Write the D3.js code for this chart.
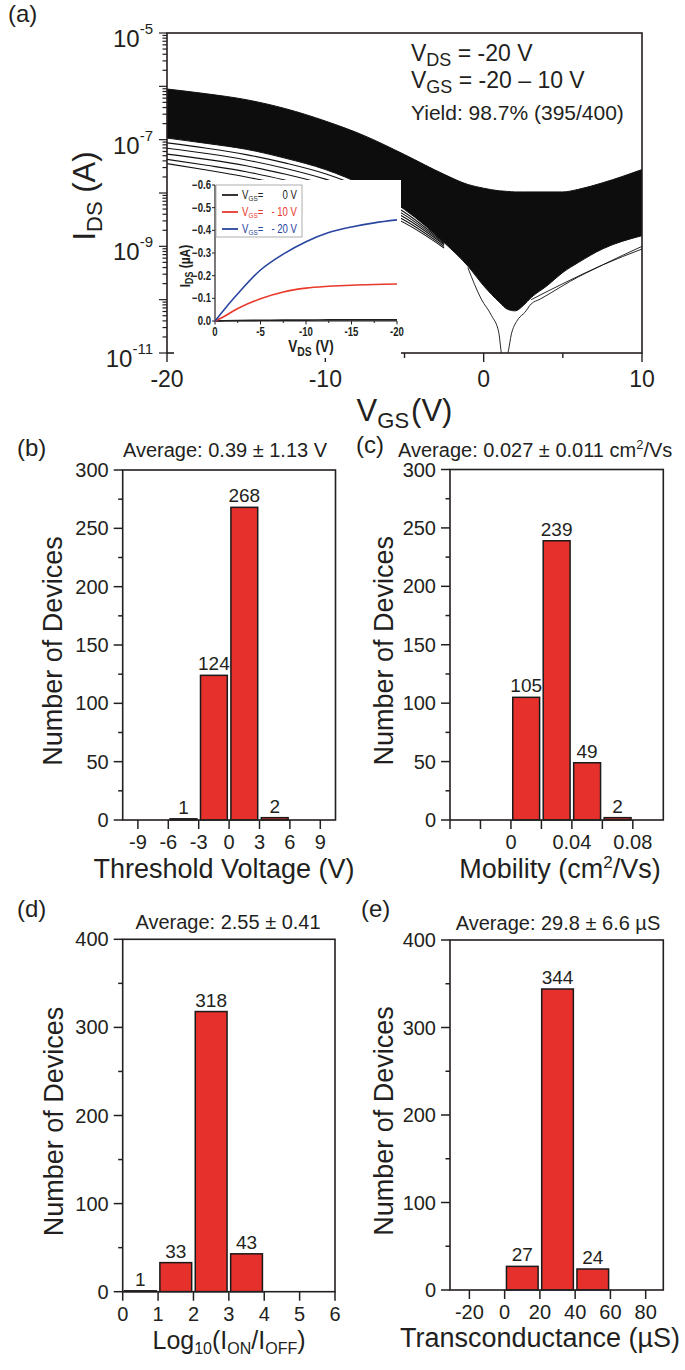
<!DOCTYPE html>
<html><head><meta charset="utf-8">
<script src="https://cdn.jsdelivr.net/npm/d3@7"></script>
<style>
body{margin:0;background:#fff}
svg{display:block}
</style>
</head><body>
<svg id="c" width="685" height="1370"></svg>
<script>
// ===================== DATA =====================
// (a) transfer curves, log10(I_DS)
const vgsGrid   = [-20,-17.5,-15,-12.5,-10,-7.5,-5,-2.5,-1,0,1,1.5,2,2.5,3,4,5,6,7.5,10];
const bandUpper = [-6.05,-6.14,-6.25,-6.42,-6.65,-6.93,-7.28,-7.65,-7.84,-7.91,-7.96,-7.97,-7.98,-7.98,-7.98,-7.98,-7.98,-7.93,-7.81,-7.56];
const bandLower = [-6.97,-7.07,-7.18,-7.35,-7.56,-7.87,-8.31,-8.93,-9.37,-9.74,-10.05,-10.18,-10.21,-10.11,-9.96,-9.74,-9.49,-9.30,-9.05,-8.80];
const tailV  = [-20,-17.5,-15,-12.5,-10,-7.5,-5,-2.5];
const tail1  = [-7.06,-7.16,-7.28,-7.44,-7.64,-7.93,-8.36,-8.93];
const tail2  = [-7.16,-7.26,-7.38,-7.54,-7.74,-8.01,-8.41,-8.95];
const tail3  = [-7.27,-7.37,-7.49,-7.65,-7.84,-8.09,-8.46,-8.97];
const tail4  = [-7.37,-7.48,-7.60,-7.76,-7.94,-8.17,-8.51,-9.00];
const tail5  = [-7.45,-7.57,-7.70,-7.85,-8.03,-8.25,-8.56,-9.03];
const dipV   = [-1,-0.15,0.5,0.95,1.17,1.45,1.78,2.19,2.6,3.0,3.57,4.26,5.5,7.5,10];
const dipLog = [-9.4,-9.99,-10.3,-10.61,-11.05,-11.05,-10.61,-10.36,-10.24,-10.08,-9.99,-9.87,-9.65,-9.35,-9.0];
const rightV   = [3,5,7.5,10];
const rightLog = [-10.0,-9.7,-9.35,-9.05];
const yDecadeLabels = [-5,-7,-9,-11];
const xTicksA = [-20,-15,-10,-5,0,5,10];

// (a) inset output curves
const insetVds = [0,-1,-2.5,-5,-7.5,-10,-12.5,-15,-17.5,-20];
const ids0   = [0,-0.001,-0.002,-0.003,-0.004,-0.004,-0.005,-0.005,-0.005,-0.005];
const idsM10 = [0,-0.020,-0.055,-0.098,-0.128,-0.145,-0.153,-0.158,-0.161,-0.163];
const idsM20 = [0,-0.050,-0.120,-0.225,-0.295,-0.350,-0.390,-0.415,-0.433,-0.446];
const insetYTicks = [0,-0.1,-0.2,-0.3,-0.4,-0.5,-0.6];
const insetXTicks = [0,-5,-10,-15,-20];
const legendValues = ["0 V","- 10 V","- 20 V"];

// (b) threshold voltage
const vthLo = [-6,-3,0,3], vthHi = [-3,0,3,6], vthCount = [1,124,268,2];
const vthTicks = [-9,-6,-3,0,3,6,9];
// (c) mobility
const muLo = [0,0.02,0.04,0.06], muHi = [0.02,0.04,0.06,0.08], muCount = [105,239,49,2];
const muTicks = [-0.04,-0.02,0,0.02,0.04,0.06,0.08];
const muTickLabels = [0,0.04,0.08];
// (d) on/off ratio
const ratioLo = [0,1,2,3], ratioHi = [1,2,3,4], ratioCount = [1,33,318,43];
const ratioTicks = [0,1,2,3,4,5,6];
// (e) transconductance
const gmLo = [0,20,40], gmHi = [20,40,60], gmCount = [27,344,24];
const gmTicks = [-20,0,20,40,60,80];

// ===================== DRAWING =====================
const FONT = '"Liberation Sans", Arial, Helvetica, sans-serif';
const INK = "#231f20";
const RED = "#e5302b";
const BLUE = "#2a45a0";
const LRED = "#e8392b";
const NX = 0.8; // horizontal squeeze for the condensed inset lettering
const svg = d3.select("#c");
svg.append("rect").attr("width",685).attr("height",1370).attr("fill","#fff");

function rich(g, x, y, parts, o) {
  o = o || {};
  const t = g.append("text").attr("x", x).attr("y", y)
    .attr("font-family", FONT).attr("font-size", o.size)
    .attr("text-anchor", o.anchor || "start").attr("fill", o.fill || INK);
  if (o.weight) t.attr("font-weight", o.weight);
  if (o.transform) t.attr("transform", o.transform);
  let cur = 0;
  parts.forEach(p => {
    const s = t.append("tspan").text(p.t);
    const off = p.off || 0;
    if (off - cur !== 0) s.attr("dy", off - cur);
    cur = off;
    if (p.size) s.attr("font-size", p.size);
    if (p.dx) s.attr("dx", p.dx);
  });
  return t;
}
// condensed text: placed at (x,y) and squeezed horizontally
function narrow(g, x, y, parts, o) {
  o = Object.assign({}, o);
  o.transform = `translate(${x},${y}) ${o.rot ? "rotate(-90) " : ""}scale(${NX},1)`;
  return rich(g, 0, 0, parts, o);
}

// ---------- Panel (a) ----------
const A = {l:167, r:642, t:33, b:353};
const xA = d3.scaleLinear().domain([-20,10]).range([A.l, A.r]);
const yA = d3.scaleLog().domain([1e-11,1e-5]).range([A.b, A.t]);
const defs = svg.append("defs");
defs.append("clipPath").attr("id","clipA").append("rect")
  .attr("x",A.l).attr("y",A.t).attr("width",A.r-A.l).attr("height",A.b-A.t);
const gA = svg.append("g").attr("clip-path","url(#clipA)");

const band = d3.area()
  .x((d,i)=>xA(vgsGrid[i]))
  .y0((d,i)=>yA(Math.pow(10,bandLower[i])))
  .y1((d,i)=>yA(Math.pow(10,bandUpper[i])))
  .curve(d3.curveMonotoneX);
gA.append("path").datum(vgsGrid).attr("d", band).attr("fill","#0d0d0d");

function logLine(vs, logs, w) {
  const ln = d3.line().x((d,i)=>xA(vs[i])).y((d,i)=>yA(Math.pow(10,logs[i]))).curve(d3.curveMonotoneX);
  gA.append("path").datum(vs).attr("d", ln).attr("fill","none").attr("stroke","#111").attr("stroke-width", w||1);
}
[tail1,tail2,tail3,tail4,tail5].forEach(t=>logLine(tailV,t,1.1));
logLine(vgsGrid, bandUpper, 1);
logLine(vgsGrid, bandLower, 1);
logLine(dipV, dipLog, 0.9);
logLine(rightV, rightLog, 0.9);

// frame
svg.append("rect").attr("x",A.l).attr("y",A.t).attr("width",A.r-A.l).attr("height",A.b-A.t)
  .attr("fill","none").attr("stroke",INK).attr("stroke-width",1.6);
// left log ticks
const gAx = svg.append("g").attr("stroke",INK);
for (let d=-11; d<=-5; d++) {
  for (let m=1; m<=9; m++) {
    const v = m*Math.pow(10,d);
    if (v > 1.0001e-5) continue;
    const len = m===1 ? 8 : 4.5;
    gAx.append("line").attr("x1",A.l-len).attr("x2",A.l).attr("y1",yA(v)).attr("y2",yA(v)).attr("stroke-width",1.2);
  }
}
yDecadeLabels.forEach(d=>{
  rich(svg, A.l-14, yA(Math.pow(10,d))+14, [{t:"10"},{t:String(d), size:15, off:-13}], {size:24, anchor:"end"});
});
xTicksA.forEach(v=>{
  const len = v%10===0 ? 9 : 5;
  gAx.append("line").attr("x1",xA(v)).attr("x2",xA(v)).attr("y1",A.b).attr("y2",A.b+len).attr("stroke-width",1.4);
  if (v%10===0) svg.append("text").attr("x",xA(v)).attr("y",387).attr("text-anchor","middle")
    .attr("font-family",FONT).attr("font-size",23).attr("fill",INK).text(v);
});
// axis titles
rich(svg, (A.l+A.r)/2, 421, [{t:"V"},{t:"GS",size:22,off:7},{t:"(V)",off:0,dx:2}], {size:31, anchor:"middle"});
rich(svg, 0, 0, [{t:"I"},{t:"DS",size:22,off:7},{t:" (A)",off:0}], {size:31, anchor:"middle", transform:"translate(95,196) rotate(-90)"});
// annotations
rich(svg, 411, 61, [{t:"V"},{t:"DS",size:18,off:5},{t:" = -20 V",off:0}], {size:23});
rich(svg, 411, 88, [{t:"V"},{t:"GS",size:18,off:5},{t:" = -20 \u2013 10 V",off:0}], {size:23});
rich(svg, 411, 120, [{t:"Yield: 98.7% (395/400)"}], {size:21});
rich(svg, 8, 22, [{t:"(a)"}], {size:24});

// ---------- Inset ----------
const I = {l:215, r:397, t:185, b:321};
svg.append("rect").attr("x",174).attr("y",180).attr("width",227).attr("height",178).attr("fill","#fff");
const xI = d3.scaleLinear().domain([0,-20]).range([I.l, I.r]);
const yI = d3.scaleLinear().domain([0,-0.6]).range([I.b, I.t]);
const gI = svg.append("g");
gI.append("line").attr("x1",I.l).attr("x2",I.l).attr("y1",I.t).attr("y2",I.b).attr("stroke",INK).attr("stroke-width",1.2);
gI.append("line").attr("x1",I.l).attr("x2",I.r).attr("y1",I.b).attr("y2",I.b).attr("stroke",INK).attr("stroke-width",1.2);
insetYTicks.forEach(v=>{
  gI.append("line").attr("x1",I.l-3).attr("x2",I.l).attr("y1",yI(v)).attr("y2",yI(v)).attr("stroke",INK);
  narrow(gI, I.l-4, yI(v)+4, [{t:d3.format(".1f")(v)}], {size:12, anchor:"end", weight:"bold"});
});
[-2.5,-7.5,-12.5,-17.5].forEach(v=>{
  gI.append("line").attr("x1",xI(v)).attr("x2",xI(v)).attr("y1",I.b).attr("y2",I.b+2).attr("stroke",INK);
});
insetXTicks.forEach(v=>{
  gI.append("line").attr("x1",xI(v)).attr("x2",xI(v)).attr("y1",I.b).attr("y2",I.b+3.5).attr("stroke",INK);
  narrow(gI, xI(v), 336, [{t:String(v)}], {size:12, anchor:"middle", weight:"bold"});
});
narrow(gI, 311, 352, [{t:"V"},{t:"DS",size:13,off:4},{t:" (V)",off:0}], {size:17, anchor:"middle", weight:"bold"});
narrow(gI, 190, 266, [{t:"I"},{t:"DS",size:11,off:3},{t:" (\u00b5A)",off:0}], {size:15, anchor:"middle", weight:"bold", rot:true});
const insetLine = d3.line().x((d,i)=>xI(insetVds[i])).y(d=>yI(d)).curve(d3.curveCatmullRom);
[[ids0,INK],[idsM10,LRED],[idsM20,BLUE]].forEach(([s,c])=>{
  gI.append("path").datum(s).attr("d",insetLine).attr("fill","none").attr("stroke",c).attr("stroke-width",1.6);
});
// legend
gI.append("rect").attr("x",216).attr("y",185).attr("width",86).attr("height",52).attr("fill","#fff").attr("stroke","#9a9a9a").attr("stroke-width",0.8);
const legCols = [INK, LRED, BLUE];
legendValues.forEach((lab,i)=>{
  const yy = 195 + i*17;
  gI.append("line").attr("x1",222).attr("x2",238).attr("y1",yy).attr("y2",yy).attr("stroke",legCols[i]).attr("stroke-width",1.8);
  narrow(gI, 242, yy+4, [{t:"V"},{t:"GS",size:8,off:2},{t:"=",off:0}], {size:12, fill:legCols[i]});
  narrow(gI, 297, yy+4, [{t:lab}], {size:12, anchor:"end", fill:legCols[i]});
});

// ---------- Histograms ----------
function histogram(P) {
  const g = svg.append("g");
  const x = d3.scaleLinear().domain(P.xDomain).range([P.l, P.r]);
  const y = d3.scaleLinear().domain([0, P.yMax]).range([P.b, P.t]);
  // bars
  P.lo.forEach((lo,i)=>{
    const x0 = x(lo)+1.8, x1 = x(P.hi[i])-1.8;
    g.append("rect").attr("x",x0).attr("y",y(P.count[i])).attr("width",x1-x0).attr("height",y(0)-y(P.count[i]))
      .attr("fill",RED).attr("stroke","#1a1a1a").attr("stroke-width",1.5);
    g.append("text").attr("x",(x0+x1)/2).attr("y",y(P.count[i])-5).attr("text-anchor","middle")
      .attr("font-family",FONT).attr("font-size",19).attr("fill",INK).text(P.count[i]);
  });
  // frame
  g.append("rect").attr("x",P.l).attr("y",P.t).attr("width",P.r-P.l).attr("height",P.b-P.t)
    .attr("fill","none").attr("stroke",INK).attr("stroke-width",1.6);
  // y ticks
  for (let v=0; v<=P.yMax; v+=P.yMinor) {
    const major = Math.abs(v % P.yMajor) < 1e-9;
    g.append("line").attr("x1",P.l-(major?9:4.5)).attr("x2",P.l).attr("y1",y(v)).attr("y2",y(v)).attr("stroke",INK).attr("stroke-width",1.5);
    if (major) g.append("text").attr("x",P.l-14).attr("y",y(v)+7).attr("text-anchor","end")
      .attr("font-family",FONT).attr("font-size",20).attr("fill",INK).text(v);
  }
  // x ticks
  P.ticks.forEach(v=>{
    g.append("line").attr("x1",x(v)).attr("x2",x(v)).attr("y1",P.b).attr("y2",P.b+9).attr("stroke",INK).attr("stroke-width",1.5);
  });
  P.tickLabels.forEach(v=>{
    g.append("text").attr("x",x(v)).attr("y",P.b+29).attr("text-anchor","middle")
      .attr("font-family",FONT).attr("font-size",20).attr("fill",INK).text(v);
  });
  rich(g, P.xtX, P.b+P.xtDy, P.xTitle, {size:P.xtSize||27, anchor:"middle"});
  rich(g, 0, 0, [{t:"Number of Devices"}], {size:27, anchor:"middle", transform:`translate(${P.ytX},${(P.t+P.b)/2+6}) rotate(-90)`});
  rich(g, P.avgX, P.avgY, P.avg, {size:20, anchor:P.avgAnchor||"middle"});
  rich(g, P.labX, P.labY, [{t:P.label}], {size:24});
}

histogram({l:122.7, r:335.5, t:470, b:820, xDomain:[-10.5,10.5], yMax:300, yMajor:50, yMinor:25,
  lo:vthLo, hi:vthHi, count:vthCount, ticks:vthTicks, tickLabels:vthTicks,
  xTitle:[{t:"Threshold Voltage (V)"}], xtX:224, xtDy:57.5, ytX:62,
  avg:[{t:"Average: 0.39 \u00b1 1.13 V"}], avgX:225, avgY:457, label:"(b)", labX:17, labY:456});

histogram({l:450, r:663.3, t:469.5, b:820, xDomain:[-0.04,0.1], yMax:300, yMajor:50, yMinor:25,
  lo:muLo, hi:muHi, count:muCount, ticks:muTicks, tickLabels:muTickLabels,
  xTitle:[{t:"Mobility (cm"},{t:"2",size:17,off:-10},{t:"/Vs)",off:0}], xtX:560, xtDy:57.5, ytX:393,
  avg:[{t:"Average: 0.027 \u00b1 0.011 cm"},{t:"2",size:13,off:-8},{t:"/Vs",off:0}], avgX:398, avgY:457, avgAnchor:"start",
  label:"(c)", labX:356, labY:453});

histogram({l:122.7, r:335, t:939.3, b:1291.7, xDomain:[0,6], yMax:400, yMajor:100, yMinor:50,
  lo:ratioLo, hi:ratioHi, count:ratioCount, ticks:ratioTicks, tickLabels:ratioTicks,
  xTitle:[{t:"Log"},{t:"10",size:16,off:5},{t:"(I",off:0},{t:"ON",size:16,off:5},{t:"/I",off:0},{t:"OFF",size:16,off:5},{t:")",off:0}],
  xtX:229, xtDy:57.5, xtSize:25, ytX:63,
  avg:[{t:"Average: 2.55 \u00b1 0.41"}], avgX:228, avgY:929, label:"(d)", labX:17, labY:917});

histogram({l:450, r:663.3, t:940, b:1290, xDomain:[-31,90], yMax:400, yMajor:100, yMinor:50,
  lo:gmLo, hi:gmHi, count:gmCount, ticks:gmTicks, tickLabels:gmTicks,
  xTitle:[{t:"Transconductance (\u00b5S)"}], xtX:540, xtDy:57, ytX:393,
  avg:[{t:"Average: 29.8 \u00b1 6.6 \u00b5S"}], avgX:558, avgY:930, label:"(e)", labX:361, labY:917});
</script>
</body></html>
